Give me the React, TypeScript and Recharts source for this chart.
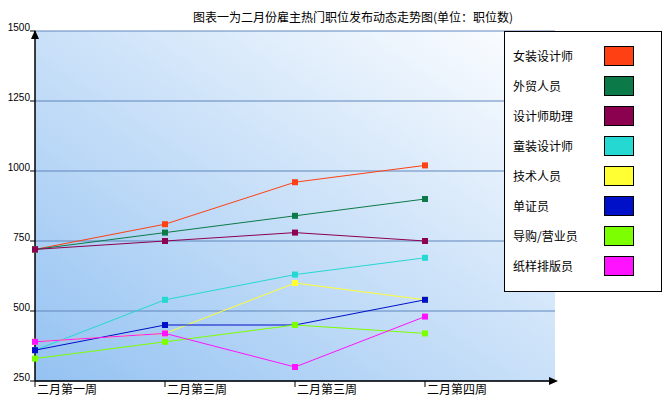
import React from 'react';
import { LineChart, Line, XAxis, YAxis, CartesianGrid } from 'recharts';

const weeks = ['二月第一周', '二月第三周', '二月第三周', '二月第四周'];
const seriesNames = ['女装设计师', '外贸人员', '设计师助理', '童装设计师', '技术人员', '单证员', '导购/营业员', '纸样排版员'];
const seriesColors = ['#ff4012', '#0b7a48', '#8c0050', '#25d8d2', '#ffff33', '#0010c8', '#7cff00', '#ff12ff'];

const womenDesigner = [720, 810, 960, 1020];
const foreignTrade = [720, 780, 840, 900];
const designerAssistant = [720, 750, 780, 750];
const kidsDesigner = [360, 540, 630, 690];
const technician = [390, 420, 600, 540];
const documentClerk = [360, 450, 450, 540];
const salesStaff = [330, 390, 450, 420];
const patternMaker = [390, 420, 300, 480];

const yTicks = [250, 500, 750, 1000, 1250, 1500];
const title = '图表一为二月份雇主热门职位发布动态走势图(单位：职位数)';

const allSeries = [womenDesigner, foreignTrade, designerAssistant, kidsDesigner, technician, documentClerk, salesStaff, patternMaker];

const data = weeks.map((week, i) => {
  const row: Record<string, string | number> = { week };
  allSeries.forEach((s, k) => {
    row['s' + k] = s[i];
  });
  return row;
});

const cjk = '"Noto Sans CJK SC", sans-serif';

const SquareDot = (props: any) => {
  const { cx, cy, stroke } = props;
  if (cx == null || cy == null) return null;
  return <rect x={cx - 3} y={cy - 3} width={6} height={6} fill={stroke} />;
};

const YTick = (props: any) => {
  const { x, y, payload } = props;
  return (
    <text x={x} y={y} textAnchor="end" fontSize={10} fontFamily='"Liberation Sans", Arial, sans-serif' fill="#000">
      {payload.value}
    </text>
  );
};

const XTick = (props: any) => {
  const { x, y, payload } = props;
  return (
    <text x={x + 2} y={y + 7} textAnchor="start" fontSize={12} fontFamily={cjk} fill="#000">
      {payload.value}
    </text>
  );
};

export default function App() {
  return (
    <div style={{ position: 'absolute', left: 0, top: 0, width: 667, height: 400, background: '#fff' }}>
      <svg width={0} height={0} style={{ position: 'absolute' }}>
        <defs>
          <linearGradient id="plotBg" x1="0" y1="1" x2="1" y2="0">
            <stop offset="0%" stopColor="#94c2f2" />
            <stop offset="100%" stopColor="#ffffff" />
          </linearGradient>
        </defs>
      </svg>
      <div style={{ position: 'absolute', left: 0, top: 8, width: 706, textAlign: 'center', fontFamily: cjk, fontSize: 12, color: '#000' }}>
        {title}
      </div>
      <div style={{ position: 'absolute', left: 0, top: 0 }}>
        <LineChart width={667} height={400} data={data} margin={{ top: 31, right: 112, bottom: 0, left: 0 }}>
          <CartesianGrid vertical={false} stroke="#5f86bd" fill="url(#plotBg)" fillOpacity={1} />
          <XAxis
            dataKey="week"
            height={19}
            padding={{ left: 0, right: 130 }}
            axisLine={{ stroke: '#000', strokeWidth: 1.5 }}
            tickLine={{ stroke: '#000' }}
            tickSize={6}
            tickMargin={0}
            tick={<XTick />}
            interval={0}
          />
          <YAxis
            width={35}
            domain={[250, 1500]}
            ticks={yTicks}
            axisLine={{ stroke: '#000', strokeWidth: 1.5 }}
            tickLine={{ stroke: '#000' }}
            tickSize={5}
            tickMargin={0}
            tick={<YTick />}
            interval={0}
          />
          {seriesNames.map((name, k) => (
            <Line
              key={name}
              name={name}
              dataKey={'s' + k}
              type="linear"
              stroke={seriesColors[k]}
              strokeWidth={1}
              dot={<SquareDot />}
              activeDot={false}
              isAnimationActive={false}
            />
          ))}
        </LineChart>
      </div>
      <svg width={667} height={400} style={{ position: 'absolute', left: 0, top: 0, pointerEvents: 'none' }}>
        <polygon points="35,30 31,39 39,39" fill="#000" />
        <polygon points="558,381 549,377 549,385" fill="#000" />
      </svg>
      <div
        style={{
          position: 'absolute',
          left: 504,
          top: 31,
          width: 158,
          height: 261,
          boxSizing: 'border-box',
          border: '1px solid #000',
          background: '#fff',
          paddingTop: 9,
          fontFamily: cjk,
          fontSize: 12,
        }}
      >
        {seriesNames.map((name, k) => (
          <div key={name} style={{ position: 'relative', height: 30 }}>
            <span style={{ position: 'absolute', left: 8, top: 0, lineHeight: '30px' }}>{name}</span>
            <span
              style={{
                position: 'absolute',
                left: 99,
                top: 5,
                width: 30,
                height: 20,
                boxSizing: 'border-box',
                border: '1px solid #000',
                background: seriesColors[k],
              }}
            />
          </div>
        ))}
      </div>
    </div>
  );
}
